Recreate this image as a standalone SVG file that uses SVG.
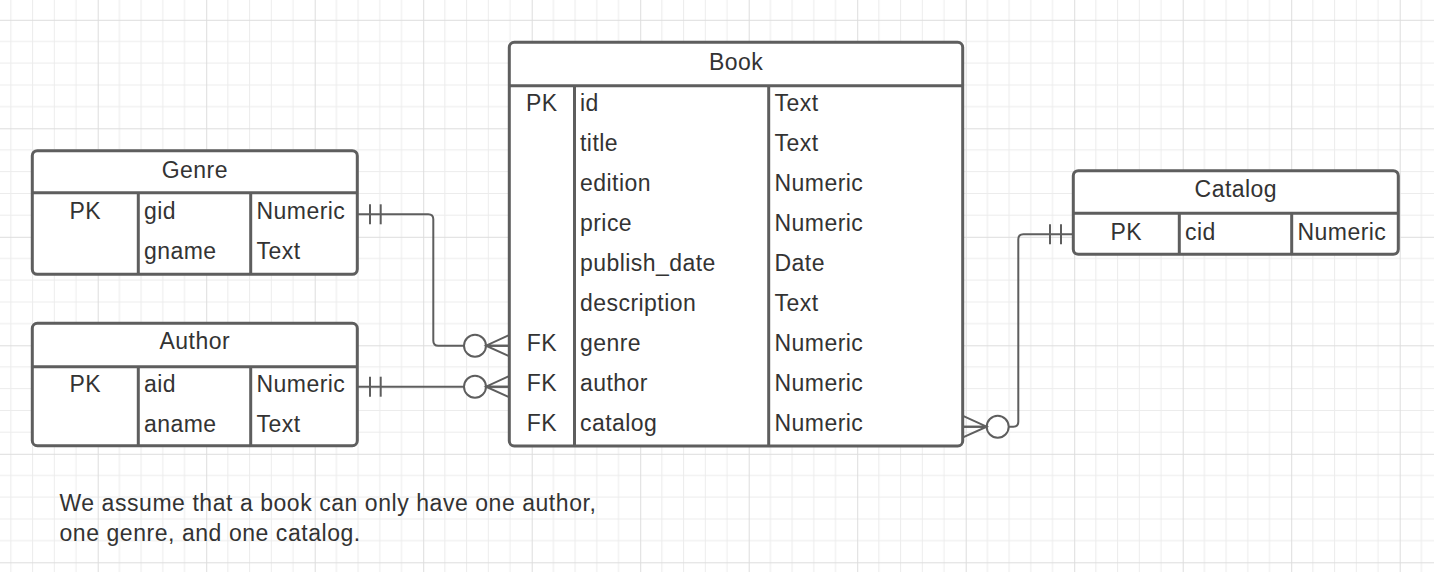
<svg xmlns="http://www.w3.org/2000/svg" width="1434" height="572" viewBox="0 0 1434 572">
<style>
.tbl{fill:#ffffff;stroke:#5e5e5e;stroke-width:3}
.ln{stroke:#5e5e5e;stroke-width:3;fill:none}
.t{font-family:"Liberation Sans",Arial,sans-serif;font-size:23px;letter-spacing:0.45px;fill:#333333}
.n{letter-spacing:0.55px}
.c{text-anchor:middle}
.cn{stroke:#5e5e5e;stroke-width:2;fill:none}
.circ{stroke:#5e5e5e;stroke-width:2;fill:#ffffff}
</style>
<defs>
<pattern id="grid" patternUnits="userSpaceOnUse" x="-10.8" y="19.8" width="108.5" height="108.5">
<path d="M21.7 0V108.5M43.4 0V108.5M65.1 0V108.5M86.8 0V108.5M0 21.7H108.5M0 43.4H108.5M0 65.1H108.5M0 86.8H108.5" stroke="#ececec" stroke-width="1"/>
<path d="M0.5 0V108.5M0 0.5H108.5" stroke="#dddddd" stroke-width="1"/>
</pattern>
</defs>
<rect width="1434" height="572" fill="#ffffff"/>
<rect width="1434" height="572" fill="url(#grid)"/>

<g id="connectors">
<path class="cn" d="M357.3 214.3H428.3Q433.3 214.3 433.3 219.3V340.7Q433.3 345.7 438.3 345.7H509"/>
<line class="cn" x1="370" y1="204.3" x2="370" y2="224.3"/>
<line class="cn" x1="380.7" y1="204.3" x2="380.7" y2="224.3"/>
<circle class="circ" cx="475" cy="345.7" r="11"/>
<path class="cn" d="M509 335.2L486 345.7L509 356.2M486 345.7H509"/>

<path class="cn" d="M357.3 386.7H509"/>
<line class="cn" x1="370" y1="376.7" x2="370" y2="396.7"/>
<line class="cn" x1="380.7" y1="376.7" x2="380.7" y2="396.7"/>
<circle class="circ" cx="475" cy="386.7" r="11"/>
<path class="cn" d="M509 376.2L486 386.7L509 397.2M486 386.7H509"/>

<path class="cn" d="M1073.3 234.3H1023.3Q1018.3 234.3 1018.3 239.3V421.7Q1018.3 426.7 1013.3 426.7H963"/>
<line class="cn" x1="1050" y1="224.3" x2="1050" y2="244.3"/>
<line class="cn" x1="1061" y1="224.3" x2="1061" y2="244.3"/>
<circle class="circ" cx="997.7" cy="426.7" r="11"/>
<path class="cn" d="M963.5 416.2L986.7 426.7L963.5 437.2M986.7 426.7H963.5"/>
</g>

<g id="genre">
<rect class="tbl" x="32.3" y="150.7" width="325" height="123.6" rx="5"/>
<path class="ln" d="M32.3 192.7H357.3M138.3 192.7V274.3M250.7 192.7V274.3"/>
<text class="t c" x="194.8" y="177.7">Genre</text>
<text class="t c" x="85.3" y="219.3">PK</text>
<text class="t" x="144" y="219.3">gid</text>
<text class="t" x="256.5" y="219.3">Numeric</text>
<text class="t" x="144" y="259.3">gname</text>
<text class="t" x="256.5" y="259.3">Text</text>
</g>

<g id="author">
<rect class="tbl" x="32.3" y="323.3" width="325" height="122.4" rx="5"/>
<path class="ln" d="M32.3 366.7H357.3M138.3 366.7V445.7M250.7 366.7V445.7"/>
<text class="t c" x="194.8" y="349.3">Author</text>
<text class="t c" x="85.3" y="391.7">PK</text>
<text class="t" x="144" y="391.7">aid</text>
<text class="t" x="256.5" y="391.7">Numeric</text>
<text class="t" x="144" y="431.7">aname</text>
<text class="t" x="256.5" y="431.7">Text</text>
</g>

<g id="book">
<rect class="tbl" x="509.3" y="42.3" width="453.4" height="403.7" rx="5"/>
<path class="ln" d="M509.3 85.7H962.7M574.5 85.7V446M768.7 85.7V446"/>
<text class="t c" x="736.2" y="69.7">Book</text>
<text class="t c" x="541.8" y="110.7">PK</text>
<text class="t" x="580" y="110.7">id</text>
<text class="t" x="774.5" y="110.7">Text</text>
<text class="t" x="580" y="150.7">title</text>
<text class="t" x="774.5" y="150.7">Text</text>
<text class="t" x="580" y="190.7">edition</text>
<text class="t" x="774.5" y="190.7">Numeric</text>
<text class="t" x="580" y="230.7">price</text>
<text class="t" x="774.5" y="230.7">Numeric</text>
<text class="t" x="580" y="270.7">publish_date</text>
<text class="t" x="774.5" y="270.7">Date</text>
<text class="t" x="580" y="310.7">description</text>
<text class="t" x="774.5" y="310.7">Text</text>
<text class="t c" x="541.8" y="350.7">FK</text>
<text class="t" x="580" y="350.7">genre</text>
<text class="t" x="774.5" y="350.7">Numeric</text>
<text class="t c" x="541.8" y="390.7">FK</text>
<text class="t" x="580" y="390.7">author</text>
<text class="t" x="774.5" y="390.7">Numeric</text>
<text class="t c" x="541.8" y="430.7">FK</text>
<text class="t" x="580" y="430.7">catalog</text>
<text class="t" x="774.5" y="430.7">Numeric</text>
</g>

<g id="catalog">
<rect class="tbl" x="1073.3" y="170.7" width="325" height="83.6" rx="5"/>
<path class="ln" d="M1073.3 213.3H1398.3M1179.3 213.3V254.3M1291.7 213.3V254.3"/>
<text class="t c" x="1235.8" y="196.7">Catalog</text>
<text class="t c" x="1126.3" y="239.7">PK</text>
<text class="t" x="1185" y="239.7">cid</text>
<text class="t" x="1297.5" y="239.7">Numeric</text>
</g>

<g id="note">
<text class="t n" x="59.5" y="511">We assume that a book can only have one author,</text>
<text class="t n" x="59.5" y="540.5">one genre, and one catalog.</text>
</g>
</svg>
